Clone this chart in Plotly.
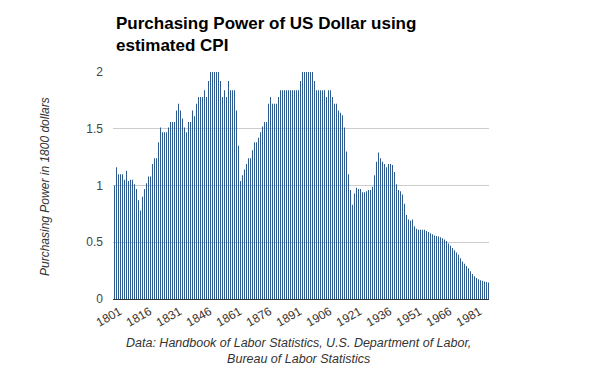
import plotly.graph_objects as go

# Years shown on the category axis
years = list(range(1801, 1989))

# Purchasing power of a US dollar, in 1800 dollars
power_1801_1830 = [1.00, 1.16, 1.10, 1.10, 1.10, 1.05, 1.13, 1.04, 1.05, 1.05,
                   1.01, 0.97, 0.87, 0.78, 0.90, 0.97, 1.02, 1.08, 1.08, 1.19,
                   1.24, 1.24, 1.38, 1.51, 1.47, 1.47, 1.47, 1.51, 1.56, 1.56]
power_1831_1860 = [1.56, 1.66, 1.72, 1.66, 1.59, 1.51, 1.47, 1.56, 1.56, 1.66,
                   1.61, 1.72, 1.78, 1.78, 1.78, 1.84, 1.78, 1.92, 2.04, 2.04,
                   2.04, 2.04, 2.04, 1.92, 1.78, 1.84, 1.78, 1.92, 1.84, 1.84]
power_1861_1890 = [1.84, 1.66, 1.35, 1.04, 1.09, 1.14, 1.19, 1.24, 1.24, 1.31,
                   1.38, 1.38, 1.42, 1.47, 1.52, 1.56, 1.56, 1.72, 1.78, 1.72,
                   1.72, 1.72, 1.78, 1.84, 1.84, 1.84, 1.84, 1.84, 1.84, 1.84]
power_1891_1920 = [1.84, 1.84, 1.84, 1.92, 2.04, 2.04, 2.04, 2.04, 2.04, 2.04,
                   1.92, 1.84, 1.84, 1.84, 1.84, 1.84, 1.78, 1.84, 1.84, 1.78,
                   1.72, 1.72, 1.66, 1.64, 1.62, 1.51, 1.30, 1.10, 0.96, 0.83]
power_1921_1950 = [0.93, 0.98, 0.97, 0.97, 0.94, 0.94, 0.95, 0.96, 0.96, 0.99,
                   1.09, 1.21, 1.29, 1.24, 1.21, 1.19, 1.16, 1.19, 1.19, 1.18,
                   1.12, 1.01, 0.96, 0.95, 0.92, 0.84, 0.74, 0.70, 0.69, 0.70]
power_1951_1988 = [0.64, 0.62, 0.61, 0.61, 0.61, 0.61, 0.60, 0.59, 0.58, 0.57,
                   0.56, 0.555, 0.55, 0.545, 0.535, 0.525, 0.51, 0.49, 0.47, 0.45,
                   0.43, 0.41, 0.39, 0.36, 0.33, 0.31, 0.29, 0.27, 0.245, 0.22,
                   0.20, 0.185, 0.175, 0.165, 0.16, 0.155, 0.15, 0.145]

power = (power_1801_1830 + power_1831_1860 + power_1861_1890 +
         power_1891_1920 + power_1921_1950 + power_1951_1988)

tick_years = list(range(1801, 1989, 15))
y_ticks = [0, 0.5, 1, 1.5, 2]
y_tick_text = ["0", "0.5", "1", "1.5", "2"]

title_text = "Purchasing Power of US Dollar using<br>estimated CPI"
y_title = "Purchasing Power in 1800 dollars"
caption = "Data: Handbook of Labor Statistics, U.S. Department of Labor,<br>Bureau of Labor Statistics"

# plot-area geometry (pixels)
L, R, T, B = 113, 111, 72, 72
W, H = 600, 371
pw, ph = W - L - R, H - T - B


def px(x):
    return (x - L) / pw


def py(y):
    return (H - B - y) / ph


FONT = "Liberation Sans, Arial, sans-serif"

fig = go.Figure(go.Bar(
    x=years, y=power,
    marker=dict(color="#2d5b8f", line=dict(width=0)),
))

fig.update_layout(
    width=W, height=H,
    margin=dict(l=L, r=R, t=T, b=B, autoexpand=False),
    paper_bgcolor="white", plot_bgcolor="white",
    bargap=0.5,
    showlegend=False,
    font=dict(family=FONT, size=12, color="#333333"),
    xaxis=dict(
        range=[1800.25, 1988.25],
        tickmode="array", tickvals=tick_years,
        ticktext=[str(t) for t in tick_years],
        tickangle=-30, showgrid=False, zeroline=False,
        showline=True, linecolor="#333333", linewidth=1,
        ticks="", ticklen=0, ticklabelshift=5,
        tickfont=dict(size=12, color="#333333"),
        automargin=False,
    ),
    yaxis=dict(
        range=[0, 2], tickmode="array", tickvals=y_ticks, ticktext=y_tick_text,
        showgrid=True, gridcolor="#cccccc", gridwidth=1, zeroline=False,
        showline=False, ticks="", ticklen=0, ticklabelstandoff=9,
        tickfont=dict(size=12, color="#444444"),
        automargin=False,
    ),
    annotations=[
        dict(text="<b>" + title_text + "</b>", xref="paper", yref="paper",
             x=px(114), y=py(12), xanchor="left", yanchor="top", align="left",
             showarrow=False, font=dict(family=FONT, size=17, color="#000000")),
        dict(text="<i>" + y_title + "</i>", xref="paper", yref="paper",
             x=px(45), y=py(187), xanchor="center", yanchor="middle",
             textangle=-90, showarrow=False,
             font=dict(family=FONT, size=12, color="#333333")),
        dict(text="<i>" + caption + "</i>", xref="paper", yref="paper",
             x=px(298), y=py(351), xanchor="center", yanchor="middle",
             align="center", showarrow=False,
             font=dict(family=FONT, size=12.5, color="#333333")),
    ],
)

fig.write_html("out.html",
               config={"displayModeBar": False},
               post_script="document.body.style.margin='0';"
                           "document.body.style.padding='0';")
